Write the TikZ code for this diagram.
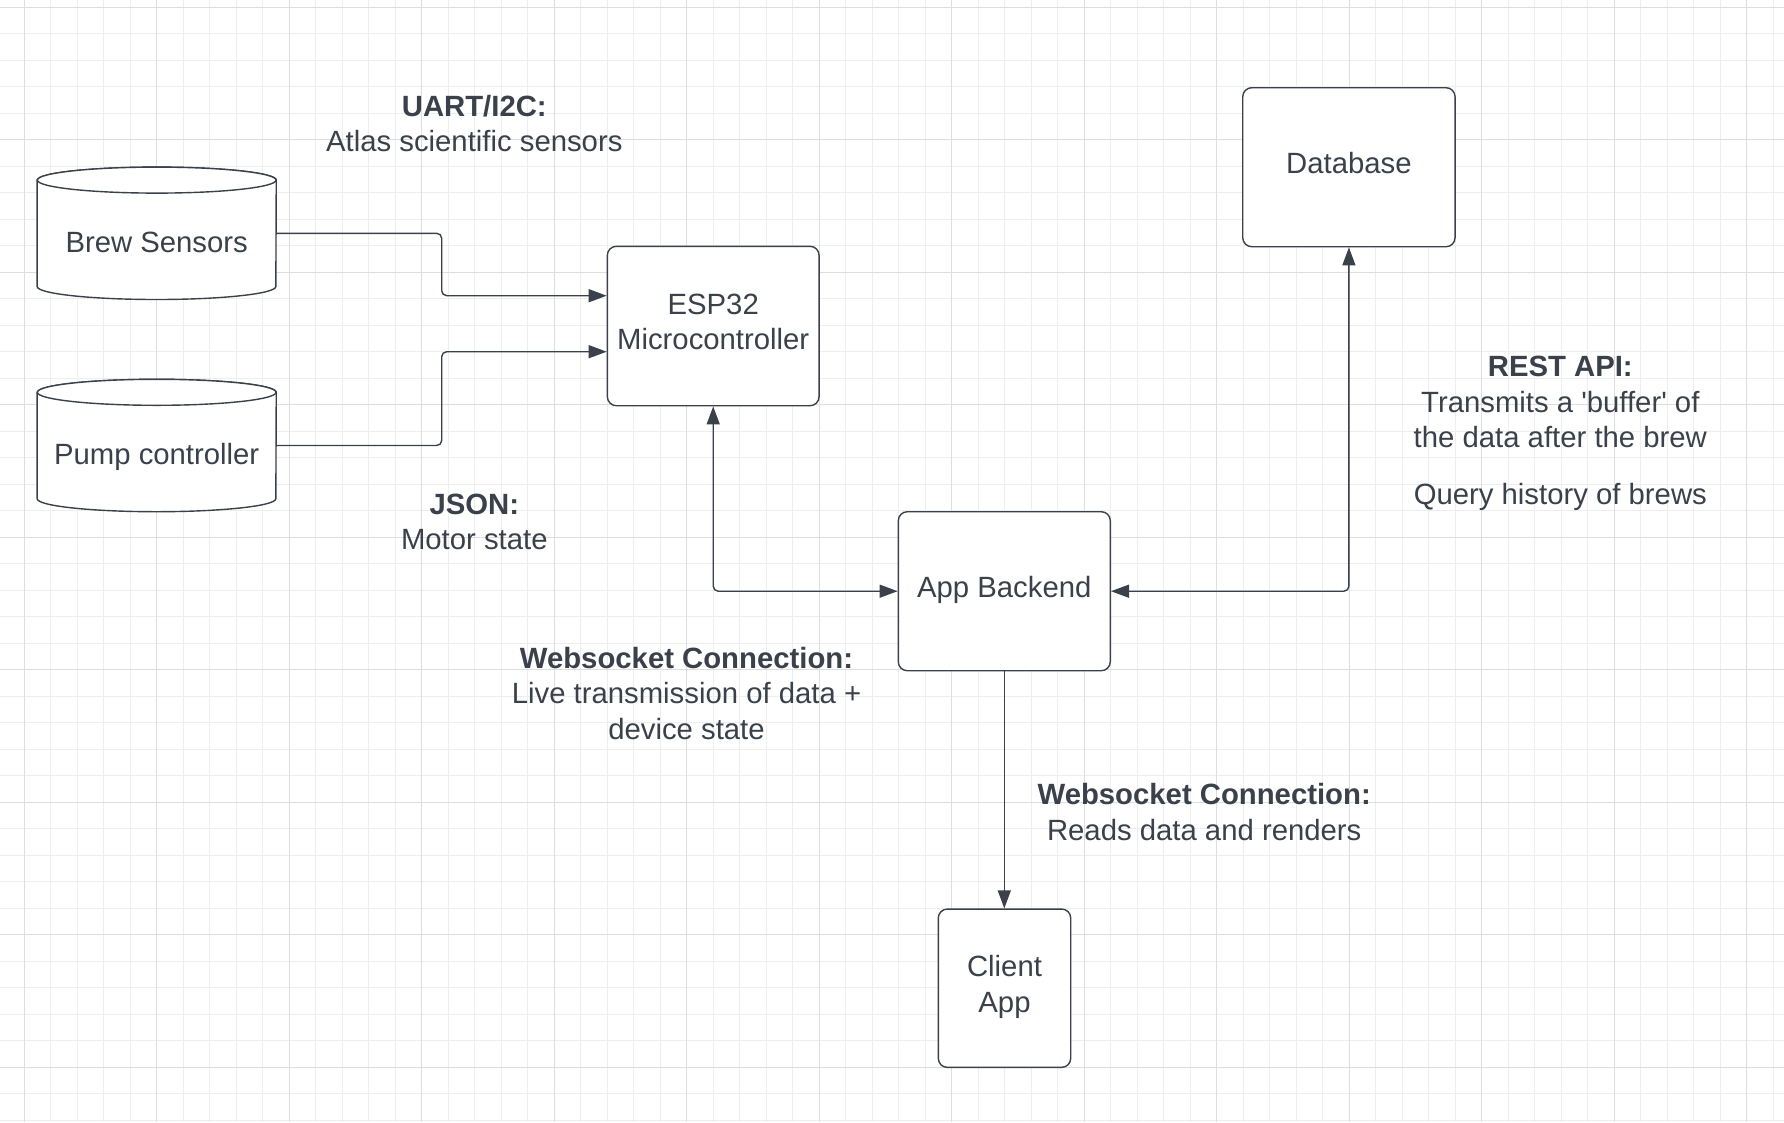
\documentclass[tikz,border=0pt]{standalone}
\usepackage{fontspec}
\setmainfont{Liberation Sans}
\usetikzlibrary{arrows.meta,calc}
\definecolor{ink}{HTML}{3A414A}
\definecolor{gridminorc}{HTML}{EEEEEE}
\definecolor{gridmajorc}{HTML}{DEDEDE}
\newcommand\dpstrut{\rule[-8.2pt]{0pt}{8.2pt}}
\newcommand\cylstrut{\rule[-7pt]{0pt}{52pt}}
\newcommand\topstrut{\rule{0pt}{22pt}}
\newcommand\botstrut{\rule[-7pt]{0pt}{7pt}}
\pgfdeclarelayer{gridlayer}
\pgfdeclarelayer{shapelayer}
\pgfsetlayers{gridlayer,shapelayer,main}
\newcommand\drawcyl[1]{%
  \begin{pgfonlayer}{shapelayer}
    \filldraw[cylline] ($(#1.north west)+(0,13)$) -- ($(#1.south west)+(0,-13)$)
      arc[start angle=180,end angle=360,x radius=119.35pt,y radius=13pt]
      -- ($(#1.north east)+(0,13)$)
      arc[start angle=0,end angle=180,x radius=119.35pt,y radius=13pt] -- cycle;
    \draw[cylline] ($(#1.north)+(0,13)$) ellipse[x radius=119.35pt,y radius=13pt];
  \end{pgfonlayer}}
\begin{document}
\begin{tikzpicture}[x=1pt,y=-1pt,
  every node/.style={font=\fontsize{29.3}{35.5}\selectfont, text=ink},
  procbox/.style={draw=ink, line width=1.4pt, fill=white, rounded corners=9pt, inner sep=0pt, align=center},
  cylnode/.style={inner sep=0pt, minimum width=238.7pt, minimum height=132pt, align=center},
  cylline/.style={draw=ink, line width=1.4pt, fill=white},
  conn/.style={draw=ink, line width=1.4pt, rounded corners=5pt},
  tip/.style={-{Triangle[length=18pt,width=13pt]}},
  bothtips/.style={{Triangle[length=18pt,width=13pt]}-{Triangle[length=18pt,width=13pt]}},
  lbl/.style={align=center, inner sep=0pt},
  gminor/.style={draw=gridminorc, line width=1pt},
  gmajor/.style={draw=gridmajorc, line width=1.2pt}
]
\useasboundingbox (0,0) rectangle (1784,1122);
\begin{pgfonlayer}{gridlayer}
  \fill[white] (0,0) rectangle (1784,1122);
  \foreach \i in {-1,...,66} \draw[gminor] ({24.3+26.5*\i},0) -- ({24.3+26.5*\i},1122);
  \foreach \j in {0,...,42} \draw[gminor] (0,{7.3+26.5*\j}) -- (1784,{7.3+26.5*\j});
  \foreach \i in {0,...,13} \draw[gmajor] ({24.3+132.5*\i},0) -- ({24.3+132.5*\i},1122);
  \foreach \j in {0,...,8} \draw[gmajor] (0,{7.3+132.5*\j}) -- (1784,{7.3+132.5*\j});
\end{pgfonlayer}

% cylinders
\node[cylnode] (brew) at (156.7,233.3) {\cylstrut Brew Sensors};
\drawcyl{brew}
\node[cylnode] (pump) at (156.7,445.5) {\cylstrut Pump controller};
\drawcyl{pump}

% boxes
\node[procbox, minimum width=211.7pt, minimum height=159.4pt] (esp) at (713.2,326) {ESP32\\Microcontroller\dpstrut};
\node[procbox, minimum width=212pt, minimum height=159pt] (app) at (1004.3,591.2) {App Backend\dpstrut};
\node[procbox, minimum width=212.3pt, minimum height=159pt] (db) at (1348.9,167.2) {Database\dpstrut};
\node[procbox, minimum width=132.4pt, minimum height=158.3pt] (client) at (1004.5,988.2) {Client\\App\dpstrut};

% connectors
\coordinate (busx) at (441.7,0);
\draw[conn, tip] (brew.east) -- (brew.east -| busx) |- ($(esp.west)+(0,-30.3)$);
\draw[conn, tip] (pump.east) -- (pump.east -| busx) |- ($(esp.west)+(0,25.7)$);
\draw[conn, bothtips] (esp.south) |- (app.west);
\draw[conn, bothtips] (db.south) |- (app.east);
\draw[conn, tip] (app.south) -- (app.south |- client.north);

% labels
\node[lbl] (uart) at (474.3,126.5) {\topstrut\textbf{UART/I2C:}\\Atlas scientific sensors\botstrut};
\node[lbl] (json) at (474.3,524.6) {\topstrut\textbf{JSON:}\\Motor state\botstrut};
\node[lbl] (wsl) at (686.5,696) {\topstrut\textbf{Websocket Connection:}\\Live transmission of data +\\device state\botstrut};
\node[lbl] (rest) at (1560.3,433.3) {\topstrut\textbf{REST API:}\\Transmits a \textquotesingle buffer\textquotesingle\ of\\the data after the brew\\[21.2pt]Query history of brews\botstrut};
\node[lbl] (wsr) at (1204.2,814.9) {\topstrut\textbf{Websocket Connection:}\\Reads data and renders\botstrut};
\end{tikzpicture}
\end{document}
